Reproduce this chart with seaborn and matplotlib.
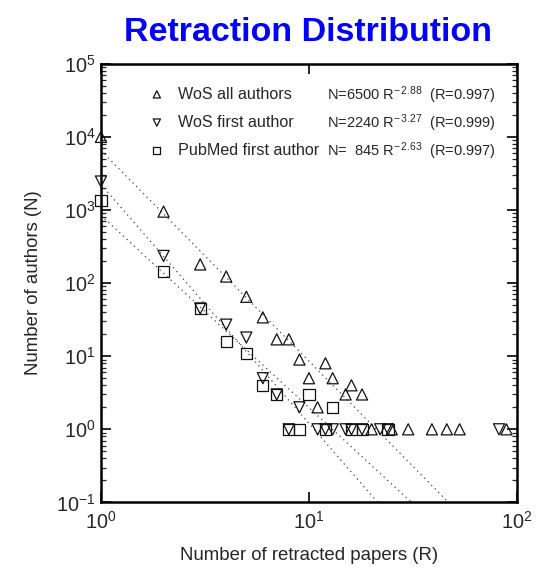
import numpy as np
import matplotlib.pyplot as plt
import seaborn as sns
from matplotlib.ticker import LogLocator, NullLocator

# retracted papers (R) vs number of authors (N)
wos_all_R = [1, 2, 3, 4, 5, 6, 7, 8, 9, 10, 11, 12, 13, 15, 16, 18, 20, 25, 30, 39, 46, 53, 89]
wos_all_N = [10000, 950, 180, 123, 65, 34, 17, 17, 9, 5, 2, 8, 5, 3, 4, 3, 1, 1, 1, 1, 1, 1, 1]

wos_first_R = [1, 2, 3, 4, 5, 6, 7, 9, 8, 11, 12, 13, 15, 16, 18, 22, 24, 82]
wos_first_N = [2450, 235, 45, 27, 18, 5, 3, 2, 1, 1, 1, 1, 1, 1, 1, 1, 1, 1]

pubmed_R = [1, 2, 3, 4, 5, 6, 7, 10, 13, 8, 9, 12, 16, 18, 24]
pubmed_N = [1340, 143, 45, 16, 11, 4, 3, 3, 2, 1, 1, 1, 1, 1, 1]

series_labels = ['WoS all authors', 'WoS first author', 'PubMed first author']
series_markers = ['^', 'v', 's']

# power law fits N = A R^-b
fit_A = [6500, 2240, 845]
fit_b = [2.88, 3.27, 2.63]
fit_r = [0.997, 0.999, 0.997]
fit_A_text = ['6500', '2240', '  845']

sns.set_style('ticks')
plt.rcParams['font.family'] = ['Liberation Sans', 'DejaVu Sans']
plt.rcParams['mathtext.fontset'] = 'custom'
plt.rcParams['mathtext.rm'] = 'Liberation Sans'
plt.rcParams['mathtext.it'] = 'Liberation Sans:italic'
plt.rcParams['mathtext.bf'] = 'Liberation Sans:bold'

fig = plt.figure(figsize=(5.37, 5.74), dpi=100)
ax = fig.add_axes([0.188, 0.1247, 0.7747, 0.7642])

r_line = np.logspace(0, 2, 300)
for A, b in zip(fit_A, fit_b):
    ax.plot(r_line, A * r_line ** (-b), linestyle=(0, (1, 3)), color='#444444',
            linewidth=0.9, zorder=1)

all_R = [wos_all_R, wos_first_R, pubmed_R]
all_N = [wos_all_N, wos_first_N, pubmed_N]
for R, N, lab, mk in zip(all_R, all_N, series_labels, series_markers):
    sns.scatterplot(x=R, y=N, marker=mk, s=64, facecolor='none', edgecolor='#111111',
                    linewidth=0.9, label=lab, ax=ax, zorder=3, clip_on=False)

ax.set_xscale('log')
ax.set_yscale('log')
ax.set_xlim(1, 100)
ax.set_ylim(0.1, 1e5)
ax.xaxis.set_minor_locator(NullLocator())
ax.yaxis.set_major_locator(LogLocator(base=10, numticks=10))
ax.yaxis.set_minor_locator(LogLocator(base=10, subs=np.arange(2, 10), numticks=10))

for sp in ax.spines.values():
    sp.set_visible(True)
    sp.set_linewidth(1.8)
    sp.set_color('black')
ax.tick_params(which='major', direction='in', length=7, width=1.2, top=True, right=True,
               labelsize=14.3, color='black')
ax.tick_params(which='minor', direction='in', length=3.5, width=0.9, top=True, right=True)
ax.tick_params(axis='x', which='major', pad=6)
ax.tick_params(axis='y', which='major', pad=4)

ax.set_xlabel('Number of retracted papers (R)', fontsize=13.4, labelpad=10)
ax.set_ylabel('Number of authors (N)', fontsize=13.4, labelpad=10)

ax.legend(loc='upper left', bbox_to_anchor=(0.115, 0.948), frameon=False, fontsize=11.6,
          borderpad=0, borderaxespad=0, handlelength=1.0, handletextpad=0.8,
          labelspacing=0.82, markerscale=0.65)

for i, (a_txt, b, r) in enumerate(zip(fit_A_text, fit_b, fit_r)):
    ax.text(0.543, 0.929 - i * 0.0638,
            f'N={a_txt} R$^{{-\\,{b:.2f}}}$  (R={r:.3f})',
            transform=ax.transAxes, fontsize=10.5, va='center', ha='left')

fig.text(0.5736, 0.928, 'Retraction Distribution', fontsize=24.5, fontweight='bold',
         color='#0000ff', ha='center', va='baseline')

fig.savefig('out.png', dpi=100)
